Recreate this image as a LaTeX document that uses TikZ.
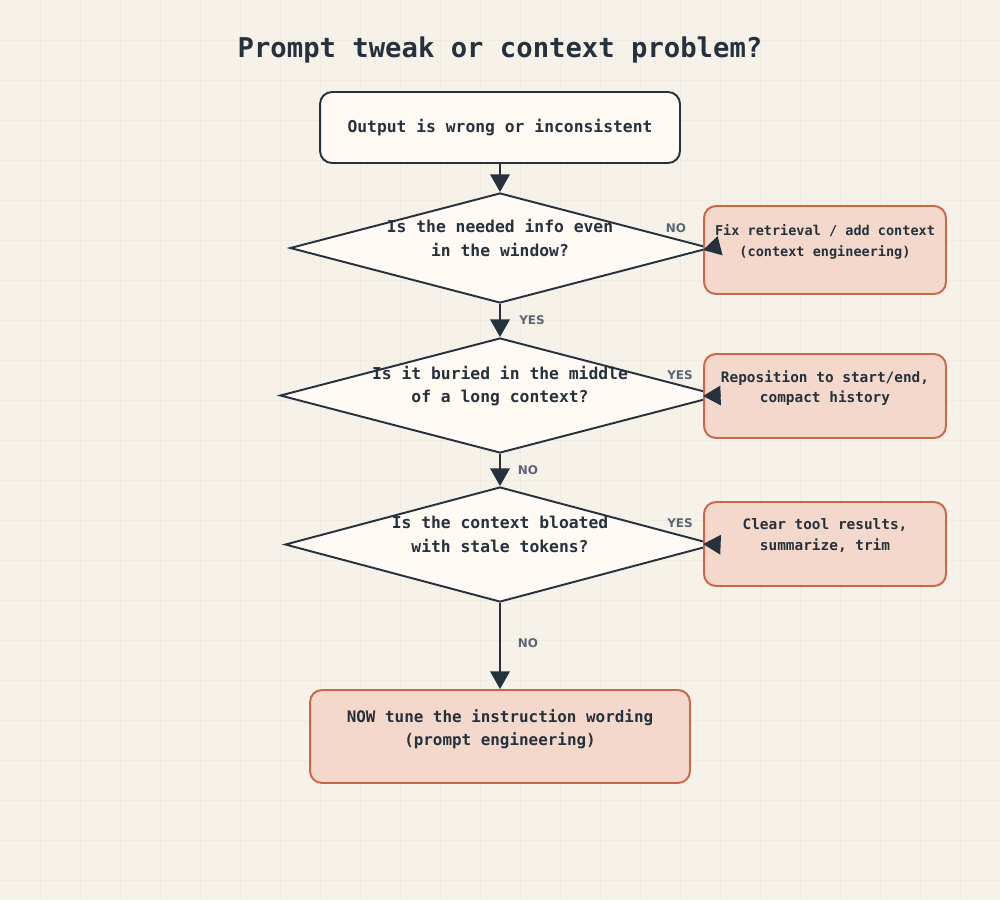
\documentclass[tikz,border=0pt]{standalone}
\usepackage{fontspec}
\setmonofont{DejaVu Sans Mono}
\newfontfamily\lblfont{DejaVu Sans}
\usetikzlibrary{shapes,arrows.meta,positioning}
\definecolor{paper}{HTML}{F6F2EA}
\definecolor{gridc}{HTML}{F0EBE0}
\definecolor{ink}{HTML}{25313D}
\definecolor{cream}{HTML}{FFFAF3}
\definecolor{salmon}{HTML}{F3D8CB}
\definecolor{rust}{HTML}{CC6644}
\definecolor{muted}{HTML}{5C6573}

\begin{document}
\begin{tikzpicture}[x=0.02cm, y=-0.02cm, >={Triangle[width=11pt,length=10pt]},
	startbox/.style={rectangle, rounded corners=6.8pt, draw=ink, line width=1.1pt, fill=cream, inner sep=0pt},
	fixbox/.style={rectangle, rounded corners=6.8pt, draw=rust, line width=1.1pt, fill=salmon, inner sep=0pt},
	question/.style={diamond, draw=ink, line width=1.1pt, fill=cream, inner sep=0pt},
	qtext/.style={align=center, text=ink, font=\ttfamily\bfseries\fontsize{9.3}{13.6}\selectfont},
	fixtext/.style={align=center, text=ink, font=\ttfamily\bfseries\fontsize{8.2}{11.8}\selectfont},
	answer/.style={text=muted, font=\lblfont\bfseries\fontsize{6.8}{8}\selectfont},
	flow/.style={->, draw=ink, line width=1.1pt}]
	% background and grid
	\fill[paper] (0,0) rectangle (1000,900);
	\useasboundingbox (0,0) rectangle (1000,900);
	\foreach \gx in {40,80,...,960} \draw[gridc, line width=0.5pt] (\gx,0) -- (\gx,900);
	\foreach \gy in {40,80,...,880} \draw[gridc, line width=0.5pt] (0,\gy) -- (1000,\gy);
	% title
	\node[text=ink, font=\ttfamily\bfseries\fontsize{15.5}{18}\selectfont] (title) at (500,50) {Prompt tweak or context problem?};
	% shapes
	\node[startbox, minimum width=7.2cm, minimum height=1.42cm] (start) at (500,127.5) {};
	\node[question, minimum width=8.4cm, minimum height=2.2cm] (q1) at (500,248) {};
	\node[question, minimum width=8.8cm, minimum height=2.3cm] (q2) at (500,395.5) {};
	\node[question, minimum width=8.6cm, minimum height=2.3cm] (q3) at (500,544.5) {};
	\node[fixbox, minimum width=4.84cm, minimum height=1.76cm] (fix1) at (825,250) {};
	\node[fixbox, minimum width=4.84cm, minimum height=1.68cm] (fix2) at (825,396) {};
	\node[fixbox, minimum width=4.84cm, minimum height=1.68cm] (fix3) at (825,544) {};
	\node[fixbox, minimum width=7.6cm, minimum height=1.86cm] (tune) at (500,736.5) {};
	% texts
	\node[qtext] (startt) at (500,128) {Output is wrong or inconsistent};
	\node[qtext] (q1t) at (500,238) {Is the needed info even\\in the window?};
	\node[qtext] (q2t) at (500,386) {Is it buried in the middle\\of a long context?};
	\node[qtext] (q3t) at (500,534) {Is the context bloated\\with stale tokens?};
	\node[fixtext, font=\ttfamily\bfseries\fontsize{7.7}{11.8}\selectfont] (fix1t) at (825,242) {Fix retrieval / add context\\(context engineering)};
	\node[fixtext] (fix2t) at (825,388) {Reposition to start/end,\\compact history};
	\node[fixtext] (fix3t) at (825,535.5) {Clear tool results,\\summarize, trim};
	\node[qtext, font=\ttfamily\bfseries\fontsize{9.05}{13}\selectfont] (tunet) at (500,729) {NOW tune the instruction wording\\(prompt engineering)};
	% connectors
	\draw[flow] (start) -- (q1.north);
	\draw[flow] (q1.south) -- (q2.north);
	\draw[flow] (q2.south) -- (q3.north);
	\draw[flow] (q3.south) -- (tune.north);
	\draw[flow] (q1.east) -- (fix1.west);
	\draw[flow] (q2.east) -- (fix2.west);
	\draw[flow] (q3.east) -- (fix3.west);
	% answers
	\node[answer] (a1) at (676,228) {NO};
	\node[answer] (a2) at (532,320) {YES};
	\node[answer] (a3) at (680,375) {YES};
	\node[answer] (a4) at (528,470) {NO};
	\node[answer] (a5) at (680,523) {YES};
	\node[answer] (a6) at (528,643) {NO};
\end{tikzpicture}
\end{document}
